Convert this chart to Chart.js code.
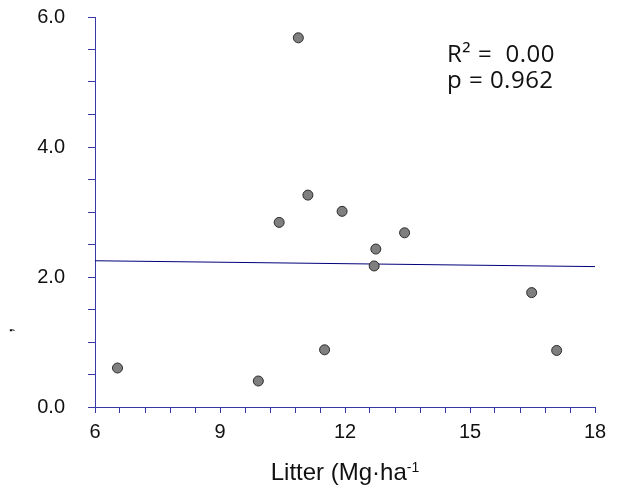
<!DOCTYPE html>
<html>
<head>
<meta charset="utf-8">
<script src="https://cdn.jsdelivr.net/npm/chart.js@4/dist/chart.umd.min.js"></script>
<style>
  html, body { margin: 0; padding: 0; background: #fff; }
  #wrap { width: 620px; height: 487px; }
</style>
</head>
<body>
<div id="wrap"><canvas id="litterChart" width="620" height="487"></canvas></div>
<script>
"use strict";

// litter (Mg ha-1) vs response
const litter = [6.54, 9.92, 10.42, 10.88, 11.11, 11.51, 11.93, 12.70, 12.74, 13.43, 16.48, 17.08];
const values = [0.60, 0.40, 2.84, 5.68, 3.26, 0.88, 3.01, 2.17, 2.43, 2.68, 1.76, 0.87];

// fitted line end points
const fitX = [6, 18];
const fitY = [2.25, 2.16];

const statLines = ["R\u00B2 =  0.00", "p = 0.962"];

const axisColor = "#3838a6";
const arial = "'Liberation Sans', Arial, sans-serif";

const ctx = document.getElementById("litterChart").getContext("2d");

// x title with superscript, stats text, and the clipped y title stub
const textPlugin = {
  id: "extraText",
  afterDraw(chart) {
    const c = chart.ctx;
    const xs = chart.scales.x;
    c.save();
    c.fillStyle = "#111";
    c.textBaseline = "alphabetic";
    c.textAlign = "left";
    const main = "Litter (Mg\u00B7ha";
    const sup = "-1";
    c.font = "24px " + arial;
    const w1 = c.measureText(main).width;
    c.font = "14px " + arial;
    const w2 = c.measureText(sup).width;
    const cx = (xs.left + xs.right) / 2;
    const x0 = cx - (w1 + w2) / 2;
    c.font = "24px " + arial;
    c.fillText(main, x0, 480);
    c.font = "14px " + arial;
    c.fillText(sup, x0 + w1, 472);

    c.font = "24px 'Open Sans', Lato, sans-serif";
    c.letterSpacing = "0.5px";
    c.fillText(statLines[0], 447, 62);
    c.fillText(statLines[1], 447, 88);
    c.letterSpacing = "0px";

    c.translate(12, 333);
    c.rotate(-Math.PI / 2);
    c.font = "20px " + arial;
    c.fillText(",", 0, 0);
    c.restore();
  }
};

const chart = new Chart(ctx, {
  type: "scatter",
  data: {
    datasets: [
      {
        label: "data",
        data: litter.map((x, i) => ({x: x, y: values[i]})),
        backgroundColor: "#7f7f7f",
        borderColor: "#2b2b2b",
        borderWidth: 1,
        pointRadius: 5,
        order: 1,
      },
      {
        label: "fit",
        type: "line",
        data: fitX.map((x, i) => ({x: x, y: fitY[i]})),
        borderColor: "#00007a",
        borderWidth: 1,
        pointRadius: 0,
        fill: false,
        order: 2,
      },
    ],
  },
  options: {
    responsive: false,
    animation: false,
    layout: {
      padding: {left: 0, right: 25, top: 17, bottom: 0},
    },
    plugins: {
      legend: {display: false},
      tooltip: {enabled: false},
    },
    scales: {
      x: {
        type: "linear",
        min: 6,
        max: 18,
        afterFit(scale) {
          scale.height = 80;
          scale.paddingLeft = 0;
          scale.paddingRight = 0;
        },
        border: {display: true, color: axisColor, width: 1},
        grid: {
          drawOnChartArea: false,
          drawTicks: true,
          tickLength: 6,
          color: axisColor,
        },
        ticks: {
          stepSize: 0.6,
          autoSkip: false,
          maxRotation: 0,
          padding: 7,
          color: "#111",
          font: {family: arial, size: 20},
          callback: (v) => {
            const r = v / 3;
            return Math.abs(r - Math.round(r)) < 1e-6 ? String(Math.round(v)) : "";
          },
        },
      },
      y: {
        min: 0,
        max: 6,
        afterFit(scale) {
          scale.width = 95;
          scale.paddingTop = 0;
          scale.paddingBottom = 0;
        },
        border: {display: true, color: axisColor, width: 1},
        grid: {
          drawOnChartArea: false,
          drawTicks: true,
          tickLength: 7,
          color: axisColor,
        },
        ticks: {
          stepSize: 0.5,
          autoSkip: false,
          padding: 23,
          color: "#111",
          font: {family: arial, size: 20},
          callback: (v) => {
            const r = v / 2;
            return Math.abs(r - Math.round(r)) < 1e-6 ? v.toFixed(1) : "";
          },
        },
      },
    },
  },
  plugins: [textPlugin],
});
</script>
</body>
</html>
